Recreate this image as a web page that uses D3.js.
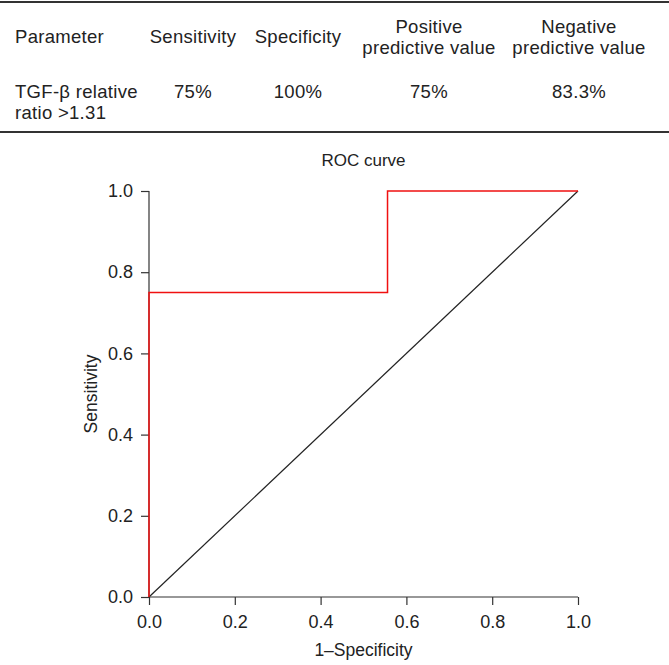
<!DOCTYPE html>
<html>
<head>
<meta charset="utf-8">
<script src="https://cdn.jsdelivr.net/npm/d3@7"></script>
<style>
  html, body { margin: 0; padding: 0; background: #fff; }
  svg { display: block; }
  text { font-family: "Liberation Sans", Arial, Helvetica, sans-serif; fill: #222; }
</style>
</head>
<body>
<svg id="chart" width="669" height="665"></svg>
<script>
// ---- Data ----
const tableHeaders = [["Parameter"], ["Sensitivity"], ["Specificity"], ["Positive", "predictive value"], ["Negative", "predictive value"]];
const tableRow = [["TGF-β relative", "ratio >1.31"], ["75%"], ["100%"], ["75%"], ["83.3%"]];
const rocFPR = [0, 0, 0, 0.556, 0.556, 1.0];
const rocTPR = [0, 0.75, 0.75, 0.75, 1.0, 1.0];
const refFPR = [0, 1];
const refTPR = [0, 1];
const tickValues = [0, 0.2, 0.4, 0.6, 0.8, 1.0];
const chartTitle = "ROC curve";
const xLabel = "1\u2013Specificity";
const yLabel = "Sensitivity";

// ---- Layout ----
const svg = d3.select("#chart");
const W = 669;
const colX = [15, 193, 298, 429, 579];
const colAnchor = ["start", "middle", "middle", "middle", "middle"];
const tableFont = 18.5;

// Table rules
svg.append("line").attr("x1", 0).attr("x2", W).attr("y1", 2).attr("y2", 2)
  .attr("stroke", "#333").attr("stroke-width", 2);
svg.append("line").attr("x1", 0).attr("x2", W).attr("y1", 132).attr("y2", 132)
  .attr("stroke", "#333").attr("stroke-width", 2);

// Header
tableHeaders.forEach((lines, i) => {
  const n = lines.length;
  lines.forEach((t, j) => {
    const yy = n === 1 ? 43 : 32.5 + j * 21;
    svg.append("text").attr("x", colX[i]).attr("y", yy)
      .attr("text-anchor", colAnchor[i]).attr("font-size", tableFont)
      .attr("letter-spacing", 0.3).text(t);
  });
});
// Data row
tableRow.forEach((lines, i) => {
  lines.forEach((t, j) => {
    svg.append("text").attr("x", colX[i]).attr("y", 97.5 + j * 21.5)
      .attr("text-anchor", colAnchor[i]).attr("font-size", tableFont)
      .attr("letter-spacing", 0.3).text(t);
  });
});

// ---- ROC plot ----
const x = d3.scaleLinear().domain([0, 1]).range([149, 578]);
const y = d3.scaleLinear().domain([0, 1]).range([597, 191]);

const xAxis = svg.append("g").attr("transform", `translate(0,${y(0)})`)
  .call(d3.axisBottom(x).tickValues(tickValues).tickFormat(d3.format(".1f")).tickSize(8).tickPadding(10));
const yAxis = svg.append("g").attr("transform", `translate(${x(0)},0)`)
  .call(d3.axisLeft(y).tickValues(tickValues).tickFormat(d3.format(".1f")).tickSize(8).tickPadding(8));
[xAxis, yAxis].forEach(g => {
  g.attr("font-size", 18).attr("font-family", "Liberation Sans, Arial, sans-serif");
  g.select(".domain").attr("stroke", "#333").attr("stroke-width", 1.2);
  g.selectAll(".tick line").attr("stroke", "#333").attr("stroke-width", 1.2);
  g.selectAll(".tick text").attr("font-size", 18).attr("fill", "#222");
});
xAxis.select(".domain").attr("d", `M${x(0)},0H${x(1)}`);
yAxis.select(".domain").attr("d", `M0,${y(0)}V${y(1)}`);

// Reference diagonal
const line = d3.line().x(d => x(d[0])).y(d => y(d[1]));
svg.append("path").datum(d3.zip(refFPR, refTPR)).attr("d", line)
  .attr("fill", "none").attr("stroke", "#222").attr("stroke-width", 1.2);

// ROC curve
svg.append("path").datum(d3.zip(rocFPR, rocTPR)).attr("d", line)
  .attr("fill", "none").attr("stroke", "#f01010").attr("stroke-width", 1.5);

// Titles
svg.append("text").attr("x", (x(0) + x(1)) / 2).attr("y", 166)
  .attr("text-anchor", "middle").attr("font-size", 17).text(chartTitle);
svg.append("text").attr("x", (x(0) + x(1)) / 2).attr("y", 656)
  .attr("text-anchor", "middle").attr("font-size", 17.5).text(xLabel);
svg.append("text").attr("transform", `translate(97,${(y(0) + y(1)) / 2}) rotate(-90)`)
  .attr("text-anchor", "middle").attr("font-size", 17.5).text(yLabel);
</script>
</body>
</html>
